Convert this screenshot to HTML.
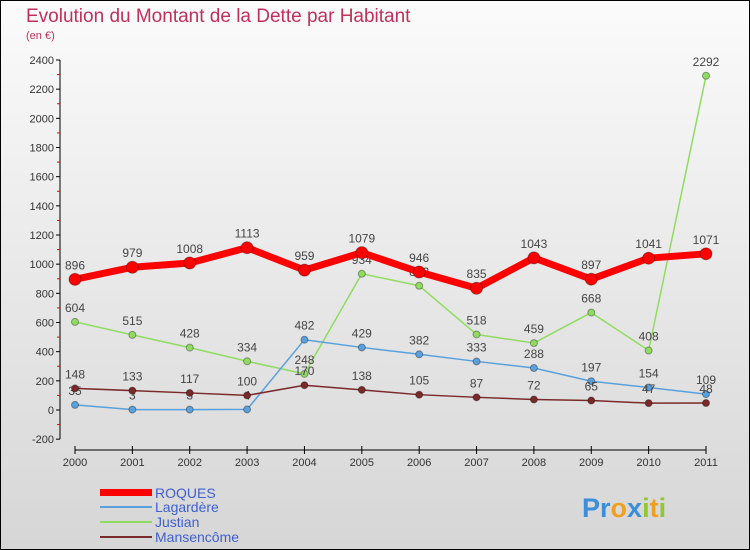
<!DOCTYPE html>
<html><head><meta charset="utf-8"><style>
body{margin:0;}
#c{width:750px;height:550px;position:relative;overflow:hidden;font-family:"Liberation Sans",sans-serif;}
</style></head><body>
<div id="c">
<svg id="s" width="750" height="550" xmlns="http://www.w3.org/2000/svg">
<defs><linearGradient id="bg" x1="0" y1="0" x2="0" y2="1"><stop offset="0" stop-color="#fbfbfb"/><stop offset="1" stop-color="#d6d6d6"/></linearGradient></defs>
<rect x="0.5" y="0.5" width="749" height="549" fill="url(#bg)" stroke="#000"/>
<text x="26" y="22" font-size="19" fill="#c0305a">Evolution du Montant de la Dette par Habitant</text>
<text x="26" y="39" font-size="11" fill="#c0305a">(en €)</text>
<g id="axes"></g>
<g id="series"></g>
<g>
<rect x="100" y="489" width="52" height="7" fill="#ff0000"/>
<text x="155" y="498" font-size="14" fill="#4060d0">ROQUES</text>
<line x1="100" y1="507" x2="152" y2="507" stroke="#5aa0dc" stroke-width="2"/>
<text x="155" y="512" font-size="14" fill="#4060d0">Lagardère</text>
<line x1="100" y1="522" x2="152" y2="522" stroke="#90dc60" stroke-width="2"/>
<text x="155" y="527" font-size="14" fill="#4060d0">Justian</text>
<line x1="100" y1="537" x2="152" y2="537" stroke="#7a2a2a" stroke-width="2"/>
<text x="155" y="542" font-size="14" fill="#4060d0">Mansencôme</text>
</g>
<g font-size="27" font-weight="bold">
<text x="582" y="517"><tspan fill="#3a8fd8">Pr</tspan><tspan fill="#f0a020">o</tspan><tspan fill="#3a8fd8">x</tspan><tspan fill="#90c830">i</tspan><tspan fill="#f0a020">t</tspan><tspan fill="#90c830">i</tspan></text>
</g>
</svg>
</div>
<script>
const years=[2000,2001,2002,2003,2004,2005,2006,2007,2008,2009,2010,2011];
const roques=[896,979,1008,1113,959,1079,946,835,1043,897,1041,1071];
const lagardere=[35,3,3,4,482,429,382,333,288,197,154,109];
const justian=[604,515,428,334,248,934,852,518,459,668,408,2292];
const mansencome=[148,133,117,100,170,138,105,87,72,65,47,48];
const yTicks=[-200,0,200,400,600,800,1000,1200,1400,1600,1800,2000,2200,2400];
const NS="http://www.w3.org/2000/svg";
const X=i=>75+i*(706-75)/(years.length-1);
const Y=v=>410-v*(350/2400);
function mk(tag,attrs,parent){const e=document.createElementNS(NS,tag);for(const k in attrs)e.setAttribute(k,attrs[k]);parent.appendChild(e);return e;}
const ax=document.getElementById('axes');
const yl=mk('line',{x1:60,y1:Y(2400),x2:60,y2:Y(-200),stroke:'#000'},ax);


yTicks.forEach((t,i)=>{
 mk('line',{x1:56,y1:Y(t),x2:60,y2:Y(t),stroke:'#000'},ax);
 if(i<yTicks.length-1)mk('line',{x1:57,y1:Y(t+100),x2:60,y2:Y(t+100),stroke:'#e00'},ax);
 const tx=mk('text',{x:54,y:Y(t)+4,'font-size':11,'text-anchor':'end',fill:'#333'},ax);
 tx.textContent=t;
 
 
});
const xl=mk('line',{x1:75,y1:450,x2:706,y2:450,stroke:'#000'},ax);


years.forEach((y,i)=>{
 mk('line',{x1:X(i),y1:446,x2:X(i),y2:454,stroke:'#000'},ax);
 const tx=mk('text',{x:X(i),y:466,'font-size':11,'text-anchor':'middle',fill:'#333'},ax);
 tx.textContent=y;
 
 
});
const sg=document.getElementById('series');
function series(name,vals,color,w,r){
 const g=mk('g',{},sg);
 
 
 const pl=mk('polyline',{points:vals.map((v,i)=>X(i)+','+Y(v)).join(' '),fill:'none',stroke:color,'stroke-width':w,'stroke-linejoin':'round'},g);
 
 
 vals.forEach((v,i)=>{
  const c=mk('circle',{cx:X(i),cy:Y(v),r:r,fill:color,stroke:'rgba(0,0,0,0.35)','stroke-width':1},g);
  
  
  const t=mk('text',{x:X(i),y:Y(v)-10,'font-size':12,'text-anchor':'middle',fill:'#444'},g);
  t.textContent=v;
  
  
 });
}
series('justian',justian,'#90dc60',1.5,3.5);
series('lagardere',lagardere,'#5aa0dc',1.5,3.5);
series('mansencome',mansencome,'#7a2a2a',1.5,3.5);
series('roques',roques,'#ff0000',7,6);
</script>
</body></html>
